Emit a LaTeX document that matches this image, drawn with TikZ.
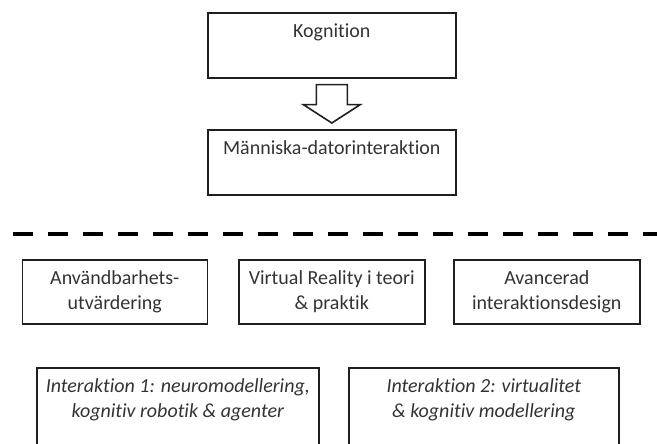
\documentclass[tikz,border=0pt]{standalone}
\usepackage{fontspec}
\setmainfont{Carlito}[Ligatures=NoCommon]
\usetikzlibrary{calc}
\newcommand{\boxtxt}[3]{\begin{minipage}[t][#2][t]{#1}\centering\fontsize{20pt}{25pt}\selectfont\rule{0pt}{25pt}#3\end{minipage}}
\tikzset{
  boxx/.style={draw=black!88, line width=1.6pt, inner sep=0pt, anchor=north west, text=black!80},
  blockarrow/.style={draw=black!88, line width=1.6pt, fill=white, line join=miter},
  divider/.style={draw=black, line width=4pt, dash pattern=on 20pt off 15pt}
}
\begin{document}
\begin{tikzpicture}[x=1pt,y=-1pt]
\useasboundingbox (0,0) rectangle (657,444);
\clip (0,0) rectangle (657,444);
\node[boxx] (kog) at (207,12) {\boxtxt{248pt}{65pt}{Kognition}};
\node[boxx] (mdi) at (207,129) {\boxtxt{248pt}{65pt}{Människa-datorinteraktion}};
\draw[blockarrow] ($(kog.south)+(-15.5,6)$) -- ++(31,0) -- ++(0,20) -- ++(13,0)
  -- ($(mdi.north)+(0,-6)$) -- ($(kog.south)+(-28.5,26)$) -- ++(13,0) -- cycle;
\coordinate (dl) at (13,234);
\coordinate (dr) at (670,234);
\draw[divider] (dl) -- (dr);
\node[boxx] (anv) at (21.5,259) {\boxtxt{185pt}{64pt}{Användbarhets-\\utvärdering}};
\node[boxx] (vr) at (238,259) {\boxtxt{186pt}{64pt}{Virtual Reality i teori\\\& praktik}};
\node[boxx] (ava) at (453,259) {\boxtxt{186pt}{64pt}{Avancerad\\interaktionsdesign}};
\node[boxx] (int1) at (36,367) {\boxtxt{282pt}{95pt}{\itshape Interaktion 1: neuromodellering,\\kognitiv robotik \& agenter}};
\node[boxx] (int2) at (348,367) {\boxtxt{270pt}{95pt}{\itshape Interaktion 2: virtualitet\\\& kognitiv modellering}};
\end{tikzpicture}
\end{document}
